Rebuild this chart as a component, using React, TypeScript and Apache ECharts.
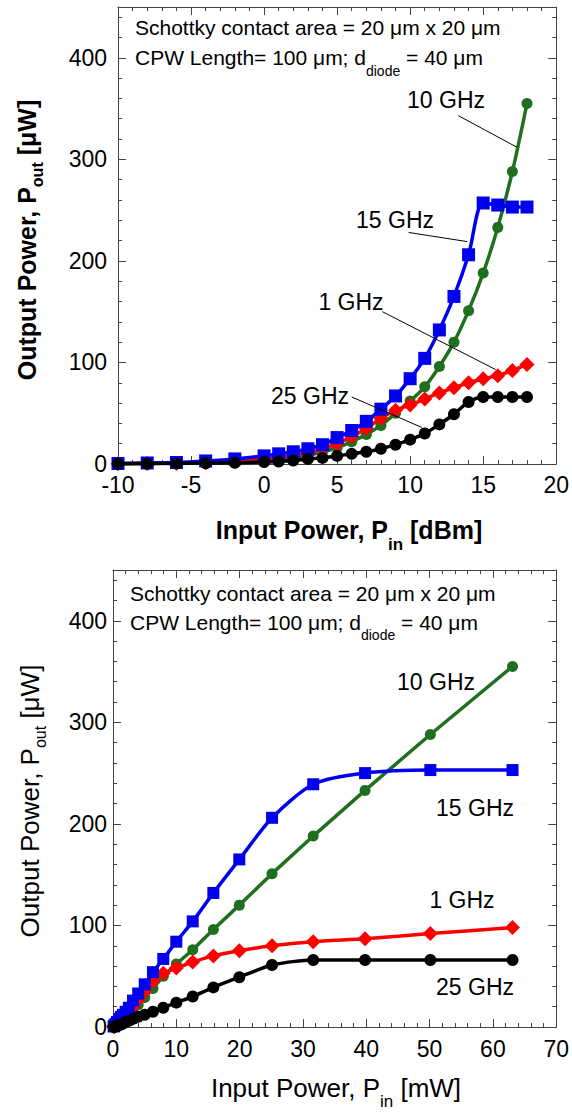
import React, { useEffect, useRef } from "react";
import * as echarts from "echarts";

const FONT = '"Liberation Sans", Arial, sans-serif';

// Input power points
const pinDBm = [-10, -8, -6, -4, -2, 0, 1, 2, 3, 4, 5, 6, 7, 8, 9, 10, 11, 12, 13, 14, 15, 16, 17, 18];
const pinMW = [0.1, 0.16, 0.25, 0.4, 0.63, 1, 1.26, 1.58, 2, 2.51, 3.16, 3.98, 5.01, 6.31, 7.94, 10, 12.59, 15.85, 19.95, 25.12, 31.62, 39.81, 50.12, 63.1];

// Output power [uW]
const out1GHz = [0.3, 0.5, 0.8, 1.3, 2.5, 5, 6.5, 8.5, 11, 15, 20, 27, 35, 45, 53, 58, 64, 70, 75, 80, 84, 87, 92, 98];
const out10GHz = [0.3, 0.5, 0.8, 1.3, 2.5, 4, 5, 6.5, 8.5, 12, 16, 22, 29, 38, 50, 62, 76, 96, 120, 151, 188, 233, 288, 355];
const out15GHzTop = [0.5, 1, 1.5, 3, 5, 8, 10, 12, 15, 19, 26, 33, 42, 54, 67, 84, 104, 132, 165, 206, 257, 255, 253, 253];
const out15GHzBottom = [0.5, 1, 1.5, 3, 5, 8, 10, 12, 15, 19, 26, 33, 42, 54, 67, 84, 104, 132, 165, 206, 239, 250, 253, 253];
const out25GHz = [0.3, 0.3, 0.5, 0.8, 1.2, 2, 2.5, 3.5, 5, 6, 8, 10, 12, 15, 19, 24, 30, 39, 49, 61, 66, 66, 66, 66];

// Pointer lines for the top chart labels (data coordinates)
const pointer10 = [[13.3, 343], [17.3, 312]];
const pointer15 = [[9.9, 228], [13.9, 219]];
const pointer1 = [[8.1, 150], [15.85, 93]];
const pointer25 = [[6.0, 66], [10.8, 36]];

const COLORS = { g1: "#ff0000", g10: "#1f6f1f", g15: "#0000ee", g25: "#000000" };
const AXIS_COLOR = "#444";

function pairs(xs: number[], ys: number[]) {
  return xs.map((x, i) => [x, ys[i]]);
}

function axisBase(extra: any) {
  return {
    type: "value",
    axisLine: { show: true, onZero: false, lineStyle: { color: AXIS_COLOR, width: 1 } },
    axisTick: { show: true, inside: true, length: 8, lineStyle: { color: AXIS_COLOR, width: 1 } },
    minorTick: { show: true, splitNumber: 5, length: 4, lineStyle: { color: AXIS_COLOR, width: 1 } },
    splitLine: { show: false },
    minorSplitLine: { show: false },
    ...extra,
  };
}

function lineSeries(name: string, xAxisIndex: number, data: number[][], color: string, symbol: string, size: number, z: number, smooth: any, extra: any = {}) {
  return {
    name,
    type: "line",
    xAxisIndex,
    yAxisIndex: xAxisIndex,
    data,
    smooth,
    symbol,
    symbolSize: size,
    showAllSymbol: true,
    lineStyle: { color, width: 3.5 },
    itemStyle: { color, borderWidth: 0 },
    z,
    ...extra,
  };
}

export default function App() {
  const ref = useRef<HTMLDivElement>(null);
  useEffect(() => {
    if (!ref.current) return;
    const chart = echarts.init(ref.current, undefined, { renderer: "svg" });
    const tickLabel = { color: "#000", fontSize: 23, fontFamily: FONT };
    const yLabelTop = { ...tickLabel, margin: 11, showMaxLabel: false };
    const yLabelBot = { ...tickLabel, margin: 6, showMaxLabel: false };
    const hidden = { show: false };

    const xAxes = [
      axisBase({ gridIndex: 0, min: -10, max: 20, interval: 5, position: "bottom", axisLabel: { ...tickLabel, margin: 9 } }),
      axisBase({ gridIndex: 0, min: -10, max: 20, interval: 5, position: "top", axisLabel: hidden }),
      axisBase({ gridIndex: 1, min: 0, max: 70, interval: 10, position: "bottom", axisLabel: { ...tickLabel, margin: 10 } }),
      axisBase({ gridIndex: 1, min: 0, max: 70, interval: 10, position: "top", axisLabel: hidden }),
    ];
    const yAxes = [
      axisBase({ gridIndex: 0, min: 0, max: 450, interval: 100, position: "left", axisLabel: yLabelTop }),
      axisBase({ gridIndex: 0, min: 0, max: 450, interval: 100, position: "right", axisLabel: hidden }),
      axisBase({ gridIndex: 1, min: 0, max: 450, interval: 100, position: "left", axisLabel: yLabelBot }),
      axisBase({ gridIndex: 1, min: 0, max: 450, interval: 100, position: "right", axisLabel: hidden }),
    ];

    const pointerData = [pointer10, pointer15, pointer1, pointer25].map((p) => [
      { coord: p[0] },
      { coord: p[1] },
    ]);

    const topSmooth = 0.3;
    const series = [
      lineSeries("10 GHz", 0, pairs(pinDBm, out10GHz), COLORS.g10, "circle", 11, 2, topSmooth, {
        markLine: {
          silent: true,
          symbol: "none",
          animation: false,
          label: { show: false },
          lineStyle: { color: "#000", width: 1, type: "solid" },
          data: pointerData,
        },
      }),
      lineSeries("1 GHz", 0, pairs(pinDBm, out1GHz), COLORS.g1, "diamond", 15, 3, topSmooth),
      lineSeries("15 GHz", 0, pairs(pinDBm, out15GHzTop), COLORS.g15, "rect", 13, 4, topSmooth),
      lineSeries("25 GHz", 0, pairs(pinDBm, out25GHz), COLORS.g25, "circle", 12, 5, topSmooth),
      lineSeries("10 GHz", 2, pairs(pinMW, out10GHz), COLORS.g10, "circle", 11, 2, false),
      lineSeries("1 GHz", 2, pairs(pinMW, out1GHz), COLORS.g1, "diamond", 15, 3, 0.2),
      lineSeries("15 GHz", 2, pairs(pinMW, out15GHzBottom), COLORS.g15, "rect", 12, 4, 0.25),
      lineSeries("25 GHz", 2, pairs(pinMW, out25GHz), COLORS.g25, "circle", 12, 5, 0.25),
    ];

    const txt = (x: number, y: number, text: string, size: number, align: string = "center", extra: any = {}) => ({
      type: "text",
      x,
      y,
      z: 100,
      style: {
        text,
        fill: "#000",
        fontSize: size,
        fontFamily: FONT,
        textAlign: align,
        textVerticalAlign: "middle",
        ...extra,
      },
    });

    const headerRich = { sub: { fontSize: 14, lineHeight: 14, verticalAlign: "bottom", fontFamily: FONT, fill: "#000" } };

    const graphic = [
      // Top chart header
      txt(135, 27, "Schottky contact area = 20 μm x 20 μm", 21, "left"),
      txt(135, 57, "CPW Length= 100 μm; d{sub|diode} = 40 μm", 21, "left", { lineHeight: 42, rich: headerRich }),
      // Top chart labels
      txt(446, 100, "10 GHz", 23),
      txt(395, 220, "15 GHz", 23),
      txt(351, 302, "1 GHz", 23),
      txt(310, 396, "25 GHz", 23),
      // Top chart axis titles
      txt(349, 530, "Input Power, P{sub|in} [dBm]", 25, "center", {
        fontWeight: "bold",
        lineHeight: 45,
        rich: { sub: { fontSize: 17, lineHeight: 17, verticalAlign: "bottom", fontWeight: "bold", fontFamily: FONT, fill: "#000" } },
      }),
      {
        ...txt(27, 240, "Output Power, P{sub|out} [μW]", 25, "center", {
          fontWeight: "bold",
          lineHeight: 37,
          rich: { sub: { fontSize: 16, lineHeight: 15, verticalAlign: "bottom", fontWeight: "bold", fontFamily: FONT, fill: "#000" } },
        }),
        rotation: Math.PI / 2,
      },
      // Bottom chart header
      txt(130, 593, "Schottky contact area = 20 μm x 20 μm", 21, "left"),
      txt(130, 622, "CPW Length= 100 μm; d{sub|diode} = 40 μm", 21, "left", { lineHeight: 40, rich: headerRich }),
      // Bottom chart labels
      txt(436, 682, "10 GHz", 23),
      txt(475, 808, "15 GHz", 23),
      txt(462, 900, "1 GHz", 23),
      txt(475, 987, "25 GHz", 23),
      // Bottom chart axis titles
      txt(336, 1088, "Input Power, P{sub|in} [mW]", 26, "center", {
        lineHeight: 43,
        rich: { sub: { fontSize: 17, lineHeight: 17, verticalAlign: "bottom", fontFamily: FONT, fill: "#000" } },
      }),
      {
        ...txt(30, 801, "Output Power, P{sub|out} [μW]", 26, "center", {
          lineHeight: 37,
          rich: { sub: { fontSize: 16, lineHeight: 15, verticalAlign: "bottom", fontFamily: FONT, fill: "#000" } },
        }),
        rotation: Math.PI / 2,
      },
    ];

    chart.setOption({
      animation: false,
      backgroundColor: "#ffffff",
      grid: [
        { left: 118, top: 7, width: 441, height: 457, containLabel: false },
        { left: 113, top: 570, width: 447, height: 457, containLabel: false },
      ],
      xAxis: xAxes,
      yAxis: yAxes,
      series,
      graphic,
    });
    return () => chart.dispose();
  }, []);

  return (
    <div
      ref={ref}
      style={{ position: "absolute", left: 0, top: 0, width: 572, height: 1113, background: "#fff" }}
    />
  );
}
